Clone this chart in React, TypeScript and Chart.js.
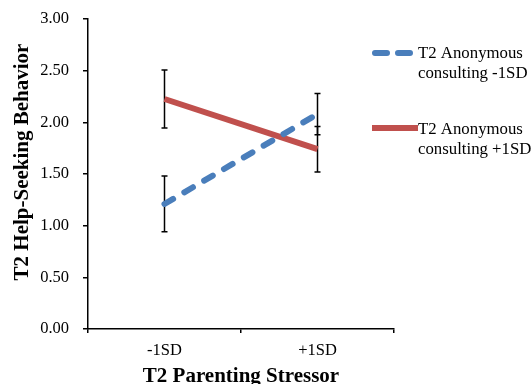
import React, { useEffect, useRef } from "react";
import { Chart, registerables } from "chart.js";

Chart.register(...registerables);

const categories = ["-1SD", "+1SD"];
const lowSeriesLabel = ["T2 Anonymous", "consulting -1SD"];
const highSeriesLabel = ["T2 Anonymous", "consulting +1SD"];
const lowValues = [1.21, 2.08];
const highValues = [2.226, 1.74];
const lowErrors = [0.27, 0.2];
const highErrors = [0.28, 0.22];
const yMin = 0;
const yMax = 3;
const yStep = 0.5;
const yTitle = "T2 Help-Seeking Behavior";
const xTitle = "T2 Parenting Stressor";

const BLUE = "#4a7ebb";
const RED = "#c0504d";
const FONT = "'Liberation Serif', 'Times New Roman', serif";

const errorBarPlugin = {
  id: "errorBars",
  beforeDatasetsDraw(chart: any) {
    const ctx = chart.ctx;
    const yScale = chart.scales.y;
    ctx.save();
    ctx.strokeStyle = "#000";
    ctx.lineWidth = 1.5;
    chart.data.datasets.forEach((ds: any, i: number) => {
      const meta = chart.getDatasetMeta(i);
      meta.data.forEach((pt: any, j: number) => {
        const v = ds.data[j];
        const e = ds.errors[j];
        const x = pt.x;
        const yt = yScale.getPixelForValue(v + e);
        const yb = yScale.getPixelForValue(v - e);
        ctx.beginPath();
        ctx.moveTo(x, yt);
        ctx.lineTo(x, yb);
        ctx.moveTo(x - 3, yt);
        ctx.lineTo(x + 3, yt);
        ctx.moveTo(x - 3, yb);
        ctx.lineTo(x + 3, yb);
        ctx.stroke();
      });
    });
    ctx.restore();
  },
};

const textPlugin = {
  id: "customText",
  afterDraw(chart: any) {
    const ctx = chart.ctx;
    const area = chart.chartArea;
    ctx.save();
    ctx.fillStyle = "#000";
    // Axis titles
    ctx.font = `bold 21px ${FONT}`;
    ctx.textAlign = "center";
    ctx.textBaseline = "alphabetic";
    ctx.fillText(xTitle, (area.left + area.right) / 2, 382);
    ctx.save();
    ctx.translate(28, 162);
    ctx.rotate(-Math.PI / 2);
    ctx.fillText(yTitle, 0, 0);
    ctx.restore();

    // Legend
    const items = [
      { label: lowSeriesLabel, color: BLUE, dash: [12, 11], cap: "round", y: 53, base: 58.3 },
      { label: highSeriesLabel, color: RED, dash: [], cap: "butt", y: 128, base: 133.5 },
    ];
    ctx.font = `16.8px ${FONT}`;
    ctx.textAlign = "left";
    items.forEach((it) => {
      ctx.save();
      ctx.strokeStyle = it.color;
      ctx.lineWidth = 6;
      ctx.lineCap = it.cap as CanvasLineCap;
      ctx.setLineDash(it.dash);
      ctx.beginPath();
      if (it.dash.length) {
        ctx.moveTo(375, it.y);
        ctx.lineTo(415, it.y);
      } else {
        ctx.moveTo(372, it.y);
        ctx.lineTo(418, it.y);
      }
      ctx.stroke();
      ctx.restore();
      it.label.forEach((line, k) => {
        ctx.fillText(line, 418, it.base + k * 20);
      });
    });
    ctx.restore();
  },
};

export default function App() {
  const canvasRef = useRef<HTMLCanvasElement | null>(null);

  useEffect(() => {
    if (!canvasRef.current) return;
    const chart = new Chart(canvasRef.current, {
      type: "line",
      data: {
        labels: categories,
        datasets: [
          {
            label: lowSeriesLabel.join(" "),
            data: lowValues,
            errors: lowErrors,
            borderColor: BLUE,
            backgroundColor: BLUE,
            borderWidth: 6,
            borderDash: [10, 13],
            borderCapStyle: "round",
            pointRadius: 0,
            fill: false,
            tension: 0,
          } as any,
          {
            label: highSeriesLabel.join(" "),
            data: highValues,
            errors: highErrors,
            borderColor: RED,
            backgroundColor: RED,
            borderWidth: 6,
            borderCapStyle: "butt",
            pointRadius: 0,
            fill: false,
            tension: 0,
          } as any,
        ],
      },
      options: {
        responsive: false,
        animation: false,
        layout: { padding: { left: 0, right: 137, top: 19, bottom: 0 } },
        plugins: {
          legend: { display: false },
          tooltip: { enabled: false },
          title: { display: false },
        },
        scales: {
          x: {
            type: "category",
            offset: true,
            grid: {
              offset: true,
              drawOnChartArea: false,
              color: "#000",
              lineWidth: 1.5,
              tickLength: 4,
            },
            border: { color: "#000", width: 1.5 },
            ticks: {
              color: "#000",
              font: { family: FONT, size: 16.5 },
              padding: 8,
              maxRotation: 0,
            },
            afterFit(scale: any) {
              scale.height = 55;
              scale.paddingLeft = 0;
              scale.paddingRight = 0;
            },
          },
          y: {
            min: yMin,
            max: yMax,
            grid: {
              drawOnChartArea: false,
              color: "#000",
              lineWidth: 1.5,
              tickLength: 5,
            },
            border: { color: "#000", width: 1.5 },
            ticks: {
              stepSize: yStep,
              color: "#000",
              font: { family: FONT, size: 16.5 },
              padding: 14,
              callback: (v: any) => Number(v).toFixed(2),
            },
            afterFit(scale: any) {
              scale.width = 88;
              scale.paddingTop = 0;
              scale.paddingBottom = 0;
            },
          },
        },
      },
      plugins: [errorBarPlugin, textPlugin],
    } as any);
    return () => chart.destroy();
  }, []);

  return (
    <div style={{ position: "absolute", left: 0, top: 0, width: 531, height: 384, background: "#fff" }}>
      <canvas ref={canvasRef} width={531} height={384} style={{ display: "block" }} />
    </div>
  );
}
